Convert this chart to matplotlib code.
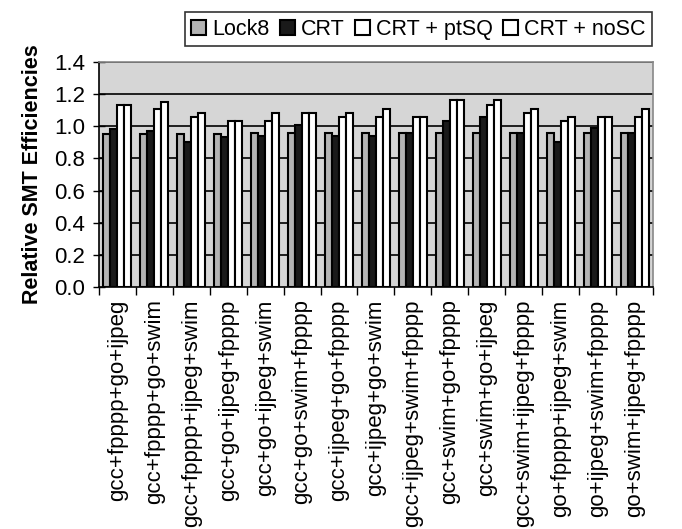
import matplotlib
matplotlib.use("Agg")
import matplotlib.pyplot as plt
import numpy as np
from matplotlib.patches import Patch

plt.rcParams['font.family'] = ['Liberation Sans', 'DejaVu Sans']

categories = ["gcc+fpppp+go+ijpeg", "gcc+fpppp+go+swim", "gcc+fpppp+ijpeg+swim",
              "gcc+go+ijpeg+fpppp", "gcc+go+ijpeg+swim", "gcc+go+swim+fpppp",
              "gcc+ijpeg+go+fpppp", "gcc+ijpeg+go+swim", "gcc+ijpeg+swim+fpppp",
              "gcc+swim+go+fpppp", "gcc+swim+go+ijpeg", "gcc+swim+ijpeg+fpppp",
              "go+fpppp+ijpeg+swim", "go+ijpeg+swim+fpppp", "go+swim+ijpeg+fpppp"]
series_names = ["Lock8", "CRT", "CRT + ptSQ", "CRT + noSC"]
lock8 = [0.95, 0.95, 0.95, 0.95, 0.96, 0.96, 0.96, 0.96, 0.96, 0.96, 0.96, 0.96, 0.96, 0.96, 0.96]
crt   = [0.98, 0.97, 0.90, 0.93, 0.94, 1.01, 0.94, 0.94, 0.96, 1.03, 1.06, 0.96, 0.90, 0.99, 0.96]
ptsq  = [1.13, 1.11, 1.06, 1.03, 1.03, 1.08, 1.06, 1.06, 1.06, 1.16, 1.13, 1.08, 1.03, 1.06, 1.06]
nosc  = [1.13, 1.15, 1.08, 1.03, 1.08, 1.08, 1.08, 1.11, 1.06, 1.16, 1.16, 1.11, 1.06, 1.06, 1.11]
yticks = [0.0, 0.2, 0.4, 0.6, 0.8, 1.0, 1.2, 1.4]

fig = plt.figure(figsize=(6.82, 5.29), dpi=100)
ax = fig.add_axes([0.145, 0.4575, 0.8125, 0.4255])
ax.set_facecolor('#d6d6d6')

x = np.arange(len(categories))
w = 0.19
colors = ['#b4b4b4', '#1a1a1a', 'white', 'white']
for i, (vals, c) in enumerate(zip([lock8, crt, ptsq, nosc], colors)):
    ax.bar(x + (i - 1.5) * w, vals, width=w, color=c, edgecolor='black',
           linewidth=1.5, zorder=3)

ax.set_ylim(0, 1.4)
ax.set_xlim(-0.5, len(categories) - 0.5)
ax.set_yticks(yticks)
ax.set_yticklabels([f"{v:.1f}" for v in yticks], fontsize=16)
for v in yticks[1:]:
    ax.axhline(v, color='black', linewidth=1.2, zorder=1)

ax.set_xticks(np.arange(len(categories) + 1) - 0.5, minor=False)
ax.set_xticklabels([])
ax.set_xticks(x, minor=True)
ax.set_xticklabels(categories, minor=True, rotation=90, fontsize=16)
ax.tick_params(axis='x', which='minor', length=0, pad=9)
ax.tick_params(axis='x', which='major', length=6, direction='out', width=1)
ax.tick_params(axis='y', direction='inout', length=8, width=1, pad=6)
for s in ax.spines.values():
    s.set_linewidth(1.2)
ax.spines['top'].set_color('#888888')
ax.spines['right'].set_color('#888888')

ax.set_ylabel("Relative SMT Efficiencies", fontsize=15.5, fontweight='bold', labelpad=8)

handles = [Patch(facecolor=c, edgecolor='black', linewidth=1.5) for c in colors]
leg = fig.legend(handles, series_names, loc='upper right', bbox_to_anchor=(0.972, 0.997),
                 ncol=4, fontsize=15.5, frameon=True, fancybox=False, edgecolor='black',
                 handlelength=0.7, handleheight=0.7, handletextpad=0.3,
                 columnspacing=0.45, borderpad=0.3)
leg.get_frame().set_linewidth(1.2)

fig.savefig("out.png", dpi=100)
